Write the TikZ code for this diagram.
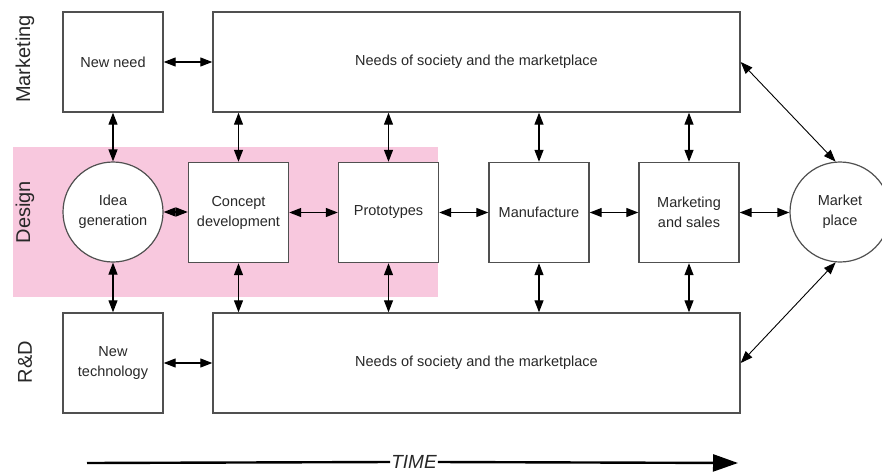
\documentclass[tikz,border=0pt]{standalone}
\usepackage{fontspec}
\setmainfont{Liberation Sans}
\usetikzlibrary{arrows.meta,calc}
\definecolor{pinkband}{RGB}{248,200,222}
\definecolor{boxline}{RGB}{80,80,80}
\definecolor{txt}{RGB}{40,40,40}
\begin{document}
\begin{tikzpicture}[x=1pt,y=1pt,
  lbl/.style={font=\fontsize{14.5}{20}\selectfont, text=txt, align=center},
  sq/.style={lbl, draw=boxline, line width=1.4pt, fill=white, minimum width=100pt, minimum height=100pt, inner sep=0pt},
  wide/.style={lbl, draw=boxline, line width=1.4pt, fill=white, minimum width=527pt, minimum height=100pt, inner sep=0pt},
  circ/.style={lbl, draw=boxline, line width=1.2pt, fill=white, circle, minimum size=100pt, inner sep=0pt},
  row/.style={font=\fontsize{20}{24}\selectfont, text=txt, rotate=90},
  conn/.style={line width=1.2pt, {Triangle[length=12pt,width=9pt]}-{Triangle[length=12pt,width=9pt]}},
  diag/.style={line width=0.9pt, {Triangle[length=12pt,width=9pt]}-{Triangle[length=12pt,width=9pt]}}
]
\useasboundingbox (0,0) rectangle (882,-471);
\fill[white] (0,0) rectangle (882,-471);
% pink band
\fill[pinkband] (13,-147) rectangle (438,-297);

% row labels
\node[row] (rmk) at (25,-59) {Marketing};
\node[row] (rds) at (25,-212) {Design};
\node[row] (rrd) at (25,-362) {R\&D};

% marketing row
\node[sq] (nn) at (113,-62) {New need};
\node[wide] (top) at (476.5,-62) {Needs of society and the marketplace};

% design row
\node[circ] (idea) at (113,-212) {Idea\\generation};
\node[sq] (cd) at (238.5,-212.5) {Concept\\development};
\node[sq] (pr) at (388.5,-212.5) {Prototypes};
\node[sq] (mf) at (539,-212.5) {Manufacture};
\node[sq] (ms) at (689,-212.5) {Marketing\\and sales};
\node[circ] (mp) at (840,-212) {Market\\place};

% R&D row
\node[sq] (nt) at (113,-363) {New\\technology};
\node[wide] (bot) at (476.5,-363) {Needs of society and the marketplace};

% horizontal connectors
\draw[conn] (nn.east) -- (top.west |- nn.east);
\draw[conn] (nt.east) -- (bot.west |- nt.east);
\draw[conn] (idea.east) -- (cd.west |- idea.east);
\draw[conn] (cd.east) -- (pr.west);
\draw[conn] (pr.east) -- (mf.west);
\draw[conn] (mf.east) -- (ms.west);
\draw[conn] (ms.east) -- (mp.west |- ms.east);

% vertical connectors
\draw[conn] (nn.south) -- (idea.north);
\draw[conn] (idea.south) -- (nt.north);
\foreach \n in {cd,pr,mf,ms}{
  \draw[conn] (top.south -| \n.north) -- (\n.north);
  \draw[conn] (\n.south) -- (bot.north -| \n.south);
}

% diagonals
\draw[diag] (top.east) -- (mp.95);
\draw[diag] (bot.east) -- (mp.265);

% time arrow
\coordinate (t0) at (87,-463);
\coordinate (t1) at (738,-463);
\node[font=\fontsize{19}{22}\selectfont\itshape, text=txt, inner sep=1pt] (time) at (414,-462) {TIME};
\draw[line width=2.4pt] (t0) -- (time.west);
\draw[line width=2.4pt, -{Triangle[length=25pt,width=17pt]}] (time.east) -- (t1);
\end{tikzpicture}
\end{document}
